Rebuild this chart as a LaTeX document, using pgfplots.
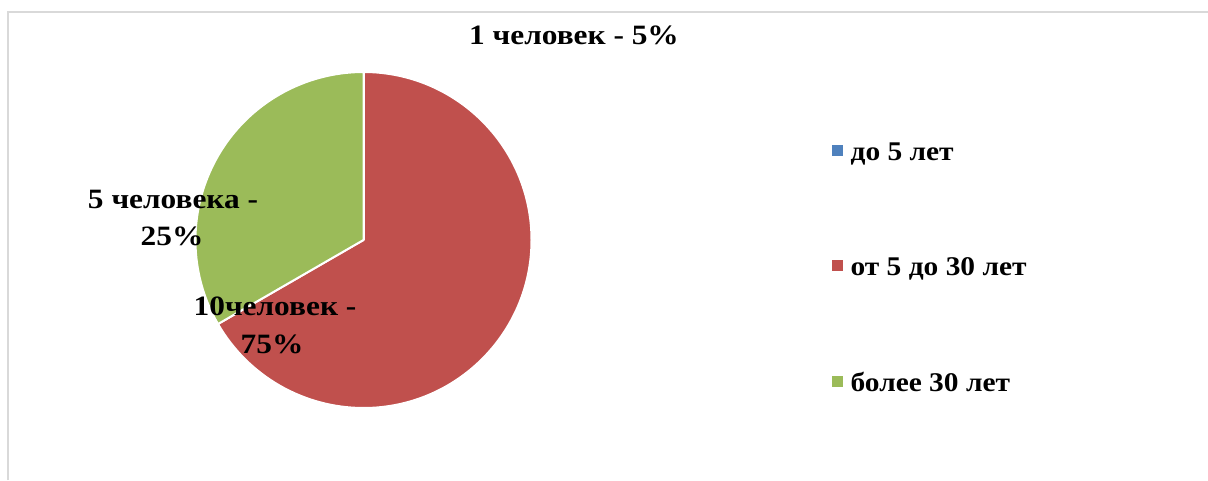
\documentclass[border=0pt]{standalone}
\usepackage{pgfplots}
\usepackage{pgfplotstable}
\pgfplotsset{compat=1.18}
\usepackage{fontspec}
\setmainfont{Liberation Serif}
\newfontfamily\lblfont[FakeStretch=1.12]{Liberation Serif}
\newfontfamily\legfont[FakeStretch=1.09]{Liberation Serif}
\definecolor{sBlue}{HTML}{4F81BD}
\definecolor{sRed}{HTML}{C0504D}
\definecolor{sGreen}{HTML}{9BBB59}
\definecolor{frameGray}{HTML}{D9D9D9}
\pgfplotstableread{
value
0
10
5
}\piedata
\begin{document}
\begin{tikzpicture}
\pgfplotstablegetelem{0}{value}\of\piedata \let\va\pgfplotsretval
\pgfplotstablegetelem{1}{value}\of\piedata \let\vb\pgfplotsretval
\pgfplotstablegetelem{2}{value}\of\piedata \let\vc\pgfplotsretval
\pgfmathsetmacro\tot{\va+\vb+\vc}
\pgfmathsetmacro\aA{90}
\pgfmathsetmacro\aB{\aA-360*\va/\tot}
\pgfmathsetmacro\aC{\aB-360*\vb/\tot}
\pgfmathsetmacro\aD{\aC-360*\vc/\tot}
\begin{axis}[
  width=1208pt, height=480pt, scale only axis,
  xmin=0, xmax=1208, ymin=0, ymax=480,
  hide axis, clip=false,
  legend cell align=left,
  legend image code/.code={\fill[#1] (0pt,-1pt) rectangle (10pt,9pt);},
  legend style={at={(axis cs:832,339)}, anchor=north west, draw=none, fill=none,
    inner sep=0pt, row sep=90.5pt, column sep=8pt,
    font=\legfont\bfseries\fontsize{27}{31}\selectfont,
    nodes={inner sep=0pt, text height=19pt, text depth=6pt}},
]
\addlegendimage{sBlue}
\addlegendentry{до 5 лет}
\addlegendimage{sRed}
\addlegendentry{от 5 до 30 лет}
\addlegendimage{sGreen}
\addlegendentry{более 30 лет}

\draw[frameGray, line width=2pt] (axis cs:8,0) -- (axis cs:8,468) -- (axis cs:1208,468);

\path[fill=sRed, draw=white, line width=2pt, line join=round] (axis cs:363.5,240) -- ++(\aB:168pt) arc[start angle=\aB, end angle=\aC, radius=168pt] -- cycle;
\path[fill=sGreen, draw=white, line width=2pt, line join=round] (axis cs:363.5,240) -- ++(\aC:168pt) arc[start angle=\aC, end angle=\aD, radius=168pt] -- cycle;
\path[fill=sBlue, draw=white, line width=2pt] (axis cs:363.5,240) -- ++(\aA:168pt) arc[start angle=\aA, end angle=\aB, radius=168pt] -- cycle;

\begin{scope}[every node/.style={font=\lblfont\bfseries\fontsize{28}{33}\selectfont, inner sep=0pt, anchor=base}]
\node at (axis cs:574,435) {1 человек - 5\%};
\node at (axis cs:173,271) {5 человека -};
\node at (axis cs:172,234) {25\%};
\node at (axis cs:275,164) {10человек -};
\node at (axis cs:272,126) {75\%};
\end{scope}
\end{axis}
\pgfresetboundingbox
\useasboundingbox (0,0) rectangle (1208pt,480pt);
\end{tikzpicture}
\end{document}
